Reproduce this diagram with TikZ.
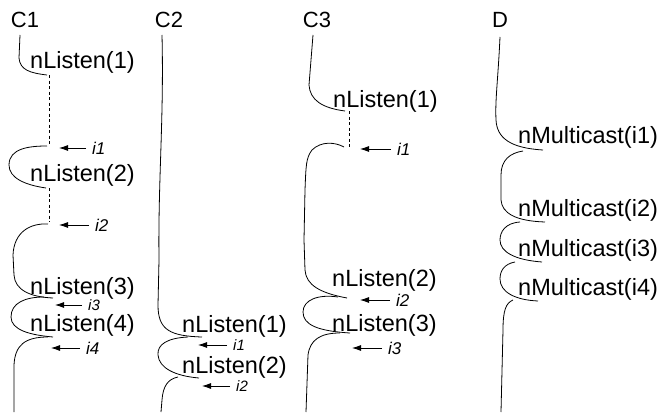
\documentclass[tikz,border=0pt]{standalone}
\usepackage{fontspec}
\setmainfont{Liberation Sans}
\usetikzlibrary{arrows.meta}
\begin{document}
\begin{tikzpicture}[x=1pt,y=-1pt,
  life/.style={line width=0.8pt},
  wait/.style={line width=0.8pt,dash pattern=on 3pt off 2.5pt},
  head/.style={inner sep=0pt,anchor=base,font=\fontsize{22}{26}\selectfont},
  call/.style={inner sep=0pt,anchor=base west,font=\fontsize{23.5}{28}\selectfont},
  msg/.style={inner sep=0pt,anchor=west,font=\fontsize{17}{20}\selectfont\itshape},
  msgs/.style={msg,font=\fontsize{15}{18}\selectfont\itshape},
  arr/.style={line width=0.8pt,-{Latex[length=9pt,width=6pt]},shorten <=6pt}]
\useasboundingbox (0,0) rectangle (666,412);

% process headers
\node[head] (C1) at (25,28) {C1};
\node[head] (C2) at (169,28) {C2};
\node[head] (C3) at (317,28) {C3};
\node[head] (D)  at (500,28) {D};

% ---------- C1 ----------
\node[call] (c1n1) at (30,69)  {nListen(1)};
\node[call] (c1n2) at (30,181) {nListen(2)};
\node[call] (c1n3) at (30,294) {nListen(3)};
\node[call] (c1n4) at (30,331) {nListen(4)};
\coordinate (c1a) at (47,75);  \coordinate (c1ad) at (49,75);
\coordinate (c1b) at (47,146); \coordinate (c1bd) at (49,146);
\coordinate (c1c) at (46,188); \coordinate (c1cd) at (49,188);
\coordinate (c1d) at (48,224); \coordinate (c1dd) at (49,222);
\coordinate (c1e) at (53,298);
\coordinate (c1f) at (53,337);
\coordinate (c1end) at (14,412);
\draw[life] (20,35) -- (19,58) .. controls (20,70) and (30,73) .. (c1a);
\draw[wait] (c1ad) -- (c1bd);
\draw[life] (c1b) .. controls (30,146) and (9,148) .. (9,165)
                  .. controls (9,178) and (25,185) .. (c1c);
\draw[wait] (c1cd) -- (c1dd);
\draw[life] (c1d) .. controls (30,223) and (14,232) .. (13,255) -- (14,275)
                  .. controls (15,290) and (30,297) .. (c1e);
\draw[life] (44,297) .. controls (25,297) and (11,303) .. (11,317)
                  .. controls (11,330) and (30,335) .. (c1f);
\draw[life] (48,337) .. controls (25,337) and (15,345) .. (14,365) -- (c1end);

\node[msg]  (c1m1) at (92,148) {i1};
\node[msg]  (c1m2) at (95,225) {i2};
\node[msgs] (c1m3) at (88,305) {i3};
\node[msg]  (c1m4) at (86,348) {i4};
\coordinate (c1t1) at (59,148);
\coordinate (c1t2) at (59,225);
\coordinate (c1t3) at (55,305);
\coordinate (c1t4) at (51,348);
\draw[arr] (c1m1.west) -- (c1t1);
\draw[arr] (c1m2.west) -- (c1t2);
\draw[arr] (c1m3.west) -- (c1t3);
\draw[arr] (c1m4.west) -- (c1t4);

% ---------- C2 ----------
\node[call] (c2n1) at (182,332) {nListen(1)};
\node[call] (c2n2) at (182,373) {nListen(2)};
\coordinate (c2a) at (202,337);
\coordinate (c2b) at (199,378);
\coordinate (c2end) at (161,412);
\draw[life] (162,35) .. controls (164,120) and (158,180) .. (159,260) -- (158,305)
                  .. controls (158,330) and (170,336) .. (c2a);
\draw[life] (188,337) .. controls (168,338) and (157,344) .. (158,355)
                  .. controls (159,368) and (175,376) .. (c2b);
\draw[life] (178,377) .. controls (168,379) and (163,386) .. (162,400) -- (c2end);

\node[msgs] (c2m1) at (233,345) {i1};
\node[msgs] (c2m2) at (236,386) {i2};
\coordinate (c2t1) at (198,345);
\coordinate (c2t2) at (202,386);
\draw[arr] (c2m1.west) -- (c2t1);
\draw[arr] (c2m2.west) -- (c2t2);

% ---------- C3 ----------
\node[call] (c3n1) at (333,107) {nListen(1)};
\node[call] (c3n2) at (332,286) {nListen(2)};
\node[call] (c3n3) at (332,331) {nListen(3)};
\coordinate (c3a) at (345,111); \coordinate (c3ad) at (349,111);
\coordinate (c3b) at (344,147); \coordinate (c3bd) at (349,147);
\coordinate (c3c) at (347,298);
\coordinate (c3d) at (350,333);
\coordinate (c3end) at (306,412);
\draw[life] (313,35) -- (309,85) .. controls (310,100) and (322,108) .. (c3a);
\draw[wait] (c3ad) -- (c3bd);
\draw[life] (c3b) .. controls (335,142) and (321,141) .. (312,150)
                  .. controls (306,158) and (306,165) .. (305,190) -- (304,240) -- (305,270)
                  .. controls (306,285) and (320,293) .. (c3c);
\draw[life] (338,297) .. controls (318,294) and (303,300) .. (303,312)
                  .. controls (303,325) and (318,331) .. (c3d);
\draw[life] (340,333) .. controls (320,333) and (310,340) .. (308,355) -- (c3end);

\node[msg] (c3m1) at (397,149) {i1};
\node[msg] (c3m2) at (396,300) {i2};
\node[msg] (c3m3) at (388,348) {i3};
\coordinate (c3t1) at (360,149);
\coordinate (c3t2) at (360,300);
\coordinate (c3t3) at (352,348);
\draw[arr] (c3m1.west) -- (c3t1);
\draw[arr] (c3m2.west) -- (c3t2);
\draw[arr] (c3m3.west) -- (c3t3);

% ---------- D ----------
\node[call] (dn1) at (518,143) {nMulticast(i1)};
\node[call] (dn2) at (518,216) {nMulticast(i2)};
\node[call] (dn3) at (518,256) {nMulticast(i3)};
\node[call] (dn4) at (518,295) {nMulticast(i4)};
\coordinate (da) at (543,150);
\coordinate (db) at (545,222);
\coordinate (dc) at (542,262);
\coordinate (dd) at (538,301);
\coordinate (dend) at (501,412);
\draw[life] (500,37) .. controls (498,80) and (495,100) .. (496,120)
                  .. controls (497,138) and (510,148) .. (da);
\draw[life] (523,151) .. controls (510,153) and (501,160) .. (501,175) -- (501,200)
                  .. controls (502,213) and (515,221) .. (db);
\draw[life] (520,222) .. controls (505,223) and (500,232) .. (500,240)
                  .. controls (500,252) and (515,260) .. (dc);
\draw[life] (515,262) .. controls (504,264) and (500,271) .. (500,279)
                  .. controls (500,292) and (515,300) .. (dd);
\draw[life] (513,300) .. controls (506,303) and (503,310) .. (503,330) -- (dend);
\end{tikzpicture}
\end{document}
